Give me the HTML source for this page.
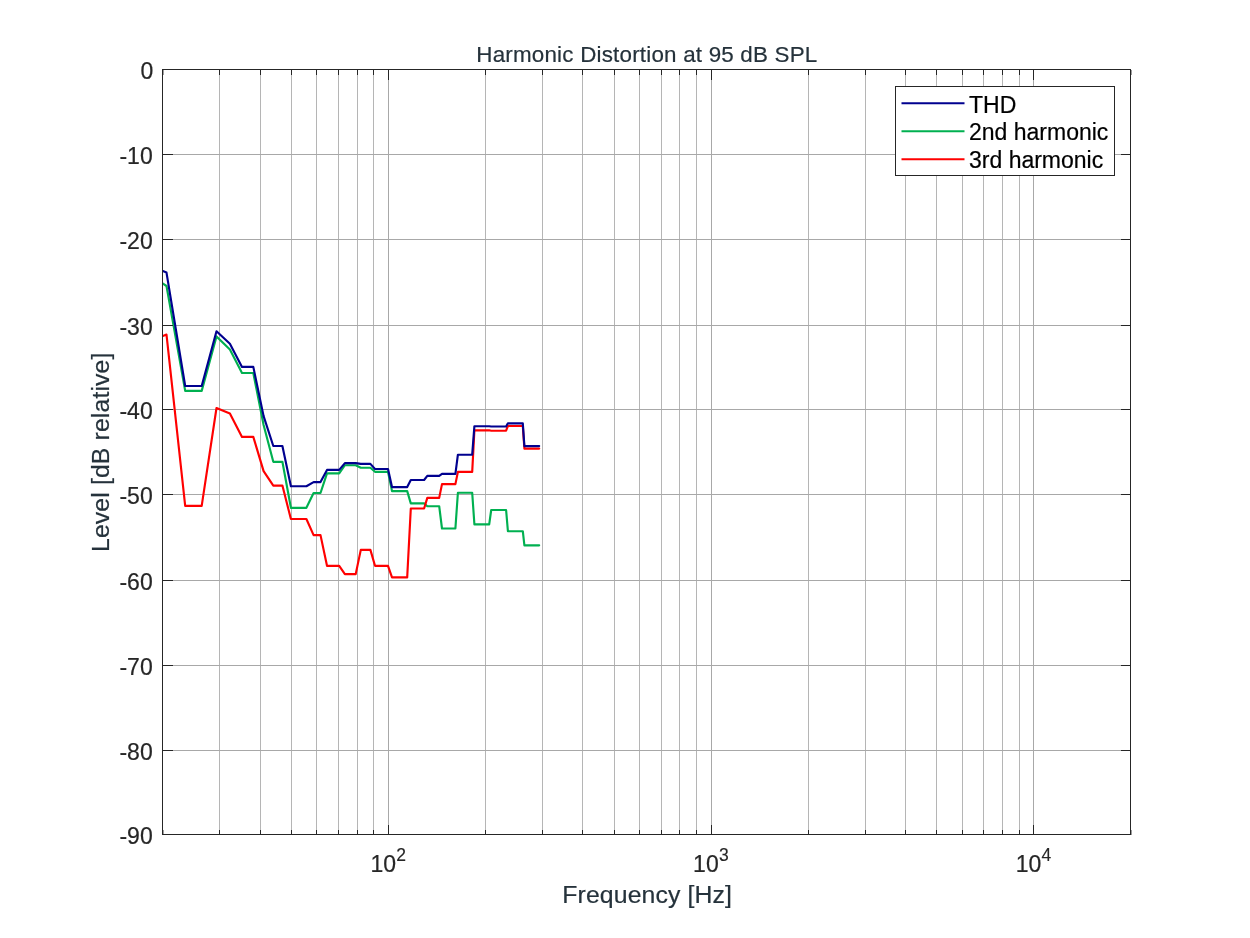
<!DOCTYPE html>
<html lang="en"><head><meta charset="utf-8"><title>Harmonic Distortion at 95 dB SPL</title>
<style>html,body{margin:0;padding:0;background:#fff;}body{width:1250px;height:938px;overflow:hidden;}svg{display:block;}text{font-family:"Liberation Sans",Arial,Helvetica,sans-serif;}.tk{font-size:23.0px;fill:#262626;stroke:#262626;stroke-width:0.2px;}.ex{font-size:17.5px;fill:#262626;stroke:#262626;stroke-width:0.15px;}.lb{font-size:22.4px;fill:#25323b;stroke:#25323b;stroke-width:0.2px;}.lg{font-size:23.0px;fill:#000;stroke:#000;stroke-width:0.2px;}.lb2{font-size:24.8px;fill:#25323b;stroke:#25323b;stroke-width:0.2px;}</style></head><body>
<svg width="1250" height="938" viewBox="0 0 1250 938">
<rect x="0" y="0" width="1250" height="938" fill="#ffffff"/>
<g shape-rendering="crispEdges" stroke-width="1">
<line x1="219.5" y1="69.5" x2="219.5" y2="834.5" stroke="#b5b5b5"/>
<line x1="260.5" y1="69.5" x2="260.5" y2="834.5" stroke="#b5b5b5"/>
<line x1="291.5" y1="69.5" x2="291.5" y2="834.5" stroke="#b5b5b5"/>
<line x1="316.5" y1="69.5" x2="316.5" y2="834.5" stroke="#b5b5b5"/>
<line x1="338.5" y1="69.5" x2="338.5" y2="834.5" stroke="#b5b5b5"/>
<line x1="357.5" y1="69.5" x2="357.5" y2="834.5" stroke="#b5b5b5"/>
<line x1="373.5" y1="69.5" x2="373.5" y2="834.5" stroke="#b5b5b5"/>
<line x1="388.5" y1="69.5" x2="388.5" y2="834.5" stroke="#a8a8a8"/>
<line x1="485.5" y1="69.5" x2="485.5" y2="834.5" stroke="#b5b5b5"/>
<line x1="542.5" y1="69.5" x2="542.5" y2="834.5" stroke="#b5b5b5"/>
<line x1="582.5" y1="69.5" x2="582.5" y2="834.5" stroke="#b5b5b5"/>
<line x1="614.5" y1="69.5" x2="614.5" y2="834.5" stroke="#b5b5b5"/>
<line x1="639.5" y1="69.5" x2="639.5" y2="834.5" stroke="#b5b5b5"/>
<line x1="661.5" y1="69.5" x2="661.5" y2="834.5" stroke="#b5b5b5"/>
<line x1="679.5" y1="69.5" x2="679.5" y2="834.5" stroke="#b5b5b5"/>
<line x1="696.5" y1="69.5" x2="696.5" y2="834.5" stroke="#b5b5b5"/>
<line x1="711.5" y1="69.5" x2="711.5" y2="834.5" stroke="#a8a8a8"/>
<line x1="808.5" y1="69.5" x2="808.5" y2="834.5" stroke="#b5b5b5"/>
<line x1="865.5" y1="69.5" x2="865.5" y2="834.5" stroke="#b5b5b5"/>
<line x1="905.5" y1="69.5" x2="905.5" y2="834.5" stroke="#b5b5b5"/>
<line x1="936.5" y1="69.5" x2="936.5" y2="834.5" stroke="#b5b5b5"/>
<line x1="962.5" y1="69.5" x2="962.5" y2="834.5" stroke="#b5b5b5"/>
<line x1="983.5" y1="69.5" x2="983.5" y2="834.5" stroke="#b5b5b5"/>
<line x1="1002.5" y1="69.5" x2="1002.5" y2="834.5" stroke="#b5b5b5"/>
<line x1="1019.5" y1="69.5" x2="1019.5" y2="834.5" stroke="#b5b5b5"/>
<line x1="1033.5" y1="69.5" x2="1033.5" y2="834.5" stroke="#a8a8a8"/>
<line x1="162.5" y1="154.5" x2="1130.5" y2="154.5" stroke="#a8a8a8"/>
<line x1="162.5" y1="239.5" x2="1130.5" y2="239.5" stroke="#a8a8a8"/>
<line x1="162.5" y1="325.5" x2="1130.5" y2="325.5" stroke="#a8a8a8"/>
<line x1="162.5" y1="409.5" x2="1130.5" y2="409.5" stroke="#a8a8a8"/>
<line x1="162.5" y1="494.5" x2="1130.5" y2="494.5" stroke="#a8a8a8"/>
<line x1="162.5" y1="580.5" x2="1130.5" y2="580.5" stroke="#a8a8a8"/>
<line x1="162.5" y1="665.5" x2="1130.5" y2="665.5" stroke="#a8a8a8"/>
<line x1="162.5" y1="750.5" x2="1130.5" y2="750.5" stroke="#a8a8a8"/>
</g>
<defs><clipPath id="ax"><rect x="162.5" y="69.5" width="968.0" height="765.0"/></clipPath></defs>
<g clip-path="url(#ax)" fill="none" stroke-width="2.15" stroke-linejoin="round" stroke-linecap="round">
<polyline stroke="#00b050" points="144.9,271.3 166.5,286.0 185.2,390.9 201.7,390.9 216.5,336.4 229.9,349.6 242.0,373.0 253.3,373.0 263.6,425.0 273.3,461.8 282.4,461.8 290.9,507.8 306.4,507.8 313.6,493.0 320.5,493.0 327.0,473.4 339.2,473.4 344.9,465.2 355.7,465.2 360.8,467.7 370.4,467.7 375.0,471.8 388.0,471.8 392.0,491.1 407.2,491.1 410.8,503.4 424.1,503.4 427.3,506.2 439.2,506.2 442.0,528.5 455.4,528.5 457.9,492.7 472.2,492.7 474.4,524.4 489.2,524.4 491.2,510.0 506.1,510.0 507.9,531.2 522.8,531.2 524.4,545.3 539.2,545.3"/>
<polyline stroke="#ff0000" points="144.9,343.2 166.5,334.6 185.2,505.9 201.7,505.9 216.5,408.0 229.9,413.5 242.0,436.9 253.3,436.9 263.6,471.1 273.3,485.6 282.4,485.6 290.9,519.0 306.4,519.0 313.6,535.1 320.5,535.1 327.0,565.8 339.2,565.8 344.9,574.1 355.7,574.1 360.8,549.9 370.4,549.9 375.0,565.8 388.0,565.8 392.0,577.4 407.2,577.4 410.8,508.5 424.1,508.5 427.3,497.9 439.2,497.9 442.0,484.1 455.4,484.1 457.9,471.9 472.2,471.9 474.4,430.3 489.2,430.3 491.2,430.7 506.1,430.7 507.9,426.0 522.8,426.0 524.4,448.6 539.2,448.6"/>
<polyline stroke="#00008f" points="144.9,263.4 166.5,272.6 185.2,386.0 201.7,386.0 216.5,331.3 229.9,343.8 242.0,366.9 253.3,366.9 263.6,416.1 273.3,446.0 282.4,446.0 290.9,486.2 306.4,486.2 313.6,482.1 320.5,482.1 327.0,469.9 339.2,469.9 344.9,463.1 355.7,463.1 360.8,463.9 370.4,463.9 375.0,469.0 388.0,469.0 392.0,487.1 407.2,487.1 410.8,480.0 424.1,480.0 427.3,475.9 439.2,475.9 442.0,473.9 455.4,473.9 457.9,454.7 472.2,454.7 474.4,426.2 489.2,426.2 491.2,426.5 506.1,426.5 507.9,423.3 522.8,423.3 524.4,446.1 539.2,446.1"/>
</g>
<g shape-rendering="crispEdges" stroke="#262626" stroke-width="1" fill="none">
<rect x="162.5" y="69.5" width="968.0" height="765.0"/>
<line x1="219.5" y1="834.5" x2="219.5" y2="829.5"/>
<line x1="219.5" y1="69.5" x2="219.5" y2="74.5"/>
<line x1="260.5" y1="834.5" x2="260.5" y2="829.5"/>
<line x1="260.5" y1="69.5" x2="260.5" y2="74.5"/>
<line x1="291.5" y1="834.5" x2="291.5" y2="829.5"/>
<line x1="291.5" y1="69.5" x2="291.5" y2="74.5"/>
<line x1="316.5" y1="834.5" x2="316.5" y2="829.5"/>
<line x1="316.5" y1="69.5" x2="316.5" y2="74.5"/>
<line x1="338.5" y1="834.5" x2="338.5" y2="829.5"/>
<line x1="338.5" y1="69.5" x2="338.5" y2="74.5"/>
<line x1="357.5" y1="834.5" x2="357.5" y2="829.5"/>
<line x1="357.5" y1="69.5" x2="357.5" y2="74.5"/>
<line x1="373.5" y1="834.5" x2="373.5" y2="829.5"/>
<line x1="373.5" y1="69.5" x2="373.5" y2="74.5"/>
<line x1="388.5" y1="834.5" x2="388.5" y2="824.5"/>
<line x1="388.5" y1="69.5" x2="388.5" y2="79.5"/>
<line x1="485.5" y1="834.5" x2="485.5" y2="829.5"/>
<line x1="485.5" y1="69.5" x2="485.5" y2="74.5"/>
<line x1="542.5" y1="834.5" x2="542.5" y2="829.5"/>
<line x1="542.5" y1="69.5" x2="542.5" y2="74.5"/>
<line x1="582.5" y1="834.5" x2="582.5" y2="829.5"/>
<line x1="582.5" y1="69.5" x2="582.5" y2="74.5"/>
<line x1="614.5" y1="834.5" x2="614.5" y2="829.5"/>
<line x1="614.5" y1="69.5" x2="614.5" y2="74.5"/>
<line x1="639.5" y1="834.5" x2="639.5" y2="829.5"/>
<line x1="639.5" y1="69.5" x2="639.5" y2="74.5"/>
<line x1="661.5" y1="834.5" x2="661.5" y2="829.5"/>
<line x1="661.5" y1="69.5" x2="661.5" y2="74.5"/>
<line x1="679.5" y1="834.5" x2="679.5" y2="829.5"/>
<line x1="679.5" y1="69.5" x2="679.5" y2="74.5"/>
<line x1="696.5" y1="834.5" x2="696.5" y2="829.5"/>
<line x1="696.5" y1="69.5" x2="696.5" y2="74.5"/>
<line x1="711.5" y1="834.5" x2="711.5" y2="824.5"/>
<line x1="711.5" y1="69.5" x2="711.5" y2="79.5"/>
<line x1="808.5" y1="834.5" x2="808.5" y2="829.5"/>
<line x1="808.5" y1="69.5" x2="808.5" y2="74.5"/>
<line x1="865.5" y1="834.5" x2="865.5" y2="829.5"/>
<line x1="865.5" y1="69.5" x2="865.5" y2="74.5"/>
<line x1="905.5" y1="834.5" x2="905.5" y2="829.5"/>
<line x1="905.5" y1="69.5" x2="905.5" y2="74.5"/>
<line x1="936.5" y1="834.5" x2="936.5" y2="829.5"/>
<line x1="936.5" y1="69.5" x2="936.5" y2="74.5"/>
<line x1="962.5" y1="834.5" x2="962.5" y2="829.5"/>
<line x1="962.5" y1="69.5" x2="962.5" y2="74.5"/>
<line x1="983.5" y1="834.5" x2="983.5" y2="829.5"/>
<line x1="983.5" y1="69.5" x2="983.5" y2="74.5"/>
<line x1="1002.5" y1="834.5" x2="1002.5" y2="829.5"/>
<line x1="1002.5" y1="69.5" x2="1002.5" y2="74.5"/>
<line x1="1019.5" y1="834.5" x2="1019.5" y2="829.5"/>
<line x1="1019.5" y1="69.5" x2="1019.5" y2="74.5"/>
<line x1="1033.5" y1="834.5" x2="1033.5" y2="824.5"/>
<line x1="1033.5" y1="69.5" x2="1033.5" y2="79.5"/>
<line x1="163.5" y1="834.5" x2="163.5" y2="829.5" stroke-opacity="0.45"/>
<line x1="163.5" y1="69.5" x2="163.5" y2="74.5" stroke-opacity="0.45"/>
<line x1="1131.5" y1="834.5" x2="1131.5" y2="829.5" stroke-opacity="0.45"/>
<line x1="1131.5" y1="69.5" x2="1131.5" y2="74.5" stroke-opacity="0.45"/>
<line x1="162.5" y1="154.5" x2="173.0" y2="154.5"/>
<line x1="1130.5" y1="154.5" x2="1121.0" y2="154.5"/>
<line x1="162.5" y1="239.5" x2="173.0" y2="239.5"/>
<line x1="1130.5" y1="239.5" x2="1121.0" y2="239.5"/>
<line x1="162.5" y1="325.5" x2="173.0" y2="325.5"/>
<line x1="1130.5" y1="325.5" x2="1121.0" y2="325.5"/>
<line x1="162.5" y1="409.5" x2="173.0" y2="409.5"/>
<line x1="1130.5" y1="409.5" x2="1121.0" y2="409.5"/>
<line x1="162.5" y1="494.5" x2="173.0" y2="494.5"/>
<line x1="1130.5" y1="494.5" x2="1121.0" y2="494.5"/>
<line x1="162.5" y1="580.5" x2="173.0" y2="580.5"/>
<line x1="1130.5" y1="580.5" x2="1121.0" y2="580.5"/>
<line x1="162.5" y1="665.5" x2="173.0" y2="665.5"/>
<line x1="1130.5" y1="665.5" x2="1121.0" y2="665.5"/>
<line x1="162.5" y1="750.5" x2="173.0" y2="750.5"/>
<line x1="1130.5" y1="750.5" x2="1121.0" y2="750.5"/>
</g>
<text class="tk" x="153.4" y="78.6" text-anchor="end">0</text>
<text class="tk" x="152.7" y="163.6" text-anchor="end">-10</text>
<text class="tk" x="152.7" y="248.6" text-anchor="end">-20</text>
<text class="tk" x="152.7" y="334.6" text-anchor="end">-30</text>
<text class="tk" x="152.7" y="418.6" text-anchor="end">-40</text>
<text class="tk" x="152.7" y="503.6" text-anchor="end">-50</text>
<text class="tk" x="152.7" y="589.6" text-anchor="end">-60</text>
<text class="tk" x="152.7" y="674.6" text-anchor="end">-70</text>
<text class="tk" x="152.7" y="759.6" text-anchor="end">-80</text>
<text class="tk" x="152.7" y="843.6" text-anchor="end">-90</text>
<text class="tk" x="370.4" y="871.8">10</text>
<text class="ex" x="396.2" y="860.9">2</text>
<text class="tk" x="693.1" y="871.8">10</text>
<text class="ex" x="718.9" y="860.9">3</text>
<text class="tk" x="1015.8" y="871.8">10</text>
<text class="ex" x="1041.6" y="860.9">4</text>
<text class="lb" x="646.8" y="61.8" text-anchor="middle" textLength="341" lengthAdjust="spacing">Harmonic Distortion at 95 dB SPL</text>
<text class="lb2" x="647.1" y="902.7" text-anchor="middle" textLength="169.5" lengthAdjust="spacing">Frequency [Hz]</text>
<text class="lb2" transform="translate(109.0,452.3) rotate(-90)" text-anchor="middle" textLength="199.5" lengthAdjust="spacing">Level [dB relative]</text>
<rect x="895.5" y="86.5" width="219" height="89" fill="#fff" stroke="#262626" stroke-width="1" shape-rendering="crispEdges"/>
<line x1="901.5" y1="103.3" x2="964.5" y2="103.3" stroke="#00008f" stroke-width="2"/>
<text class="lg" x="969" y="112.9">THD</text>
<line x1="901.5" y1="131.3" x2="964.5" y2="131.3" stroke="#00b050" stroke-width="2"/>
<text class="lg" x="969" y="140.2">2nd harmonic</text>
<line x1="901.5" y1="159.3" x2="964.5" y2="159.3" stroke="#ff0000" stroke-width="2"/>
<text class="lg" x="969" y="168.3">3rd harmonic</text>
</svg></body></html>
